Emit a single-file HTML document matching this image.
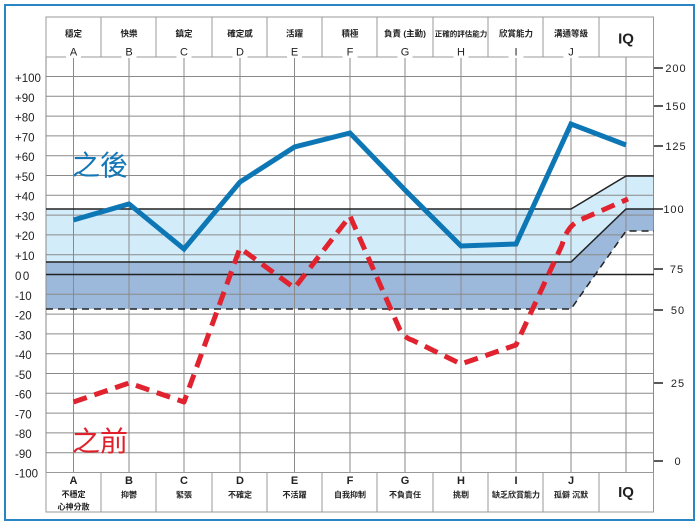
<!DOCTYPE html>
<html><head><meta charset="utf-8"><style>
html,body{margin:0;padding:0;background:#fff;}
svg{display:block;}
text{font-family:"Liberation Sans","Noto Sans CJK TC",sans-serif;}
.cj{font-family:"Liberation Sans","Noto Sans CJK TC",sans-serif;font-weight:700;fill:#222;}
.ax{font-size:11.5px;fill:#222;}
.rx{font-size:11px;fill:#222;letter-spacing:1px;}
</style></head><body>
<svg width="700" height="529" viewBox="0 0 700 529" xmlns="http://www.w3.org/2000/svg">
<rect x="0" y="0" width="700" height="529" fill="#fff"/>
<rect x="5" y="5" width="689" height="515" fill="none" stroke="#2a85c4" stroke-width="2"/>

<!-- bands -->
<polygon points="46,209 571,209 626,176 654,176 654,209 626,209 571,262 46,262" fill="#d3ecfa"/>
<polygon points="46,262 571,262 626,209 654,209 654,231 626,231 571,309 46,309" fill="#9cb8da"/>

<!-- horizontal grid -->
<g stroke="#8a8a8a" stroke-width="1">
<line x1="46" y1="76.5" x2="654" y2="76.5"/>
<line x1="46" y1="96.3" x2="654" y2="96.3"/>
<line x1="46" y1="116.1" x2="654" y2="116.1"/>
<line x1="46" y1="135.9" x2="654" y2="135.9"/>
<line x1="46" y1="155.7" x2="654" y2="155.7"/>
<line x1="46" y1="175.5" x2="654" y2="175.5"/>
<line x1="46" y1="195.3" x2="654" y2="195.3"/>
<line x1="46" y1="215.1" x2="654" y2="215.1"/>
<line x1="46" y1="234.9" x2="654" y2="234.9"/>
<line x1="46" y1="254.7" x2="654" y2="254.7"/>
<line x1="46" y1="294.3" x2="654" y2="294.3"/>
<line x1="46" y1="314.1" x2="654" y2="314.1"/>
<line x1="46" y1="333.9" x2="654" y2="333.9"/>
<line x1="46" y1="353.7" x2="654" y2="353.7"/>
<line x1="46" y1="373.5" x2="654" y2="373.5"/>
<line x1="46" y1="393.3" x2="654" y2="393.3"/>
<line x1="46" y1="413.1" x2="654" y2="413.1"/>
<line x1="46" y1="432.9" x2="654" y2="432.9"/>
<line x1="46" y1="452.7" x2="654" y2="452.7"/>
<line x1="46" y1="472.5" x2="654" y2="472.5"/>
</g>
<!-- vertical grid -->
<g stroke="#8a8a8a" stroke-width="1">
<line x1="46" y1="57" x2="46" y2="512"/>
<line x1="653.5" y1="57" x2="653.5" y2="512"/>
<line x1="73.5" y1="57" x2="73.5" y2="472"/>
<line x1="129" y1="57" x2="129" y2="472"/>
<line x1="184" y1="57" x2="184" y2="472"/>
<line x1="240" y1="57" x2="240" y2="472"/>
<line x1="294.5" y1="57" x2="294.5" y2="472"/>
<line x1="350" y1="57" x2="350" y2="472"/>
<line x1="405" y1="57" x2="405" y2="472"/>
<line x1="461" y1="57" x2="461" y2="472"/>
<line x1="516" y1="57" x2="516" y2="472"/>
<line x1="571" y1="57" x2="571" y2="472"/>
<line x1="626" y1="57" x2="626" y2="472"/>
</g>

<!-- band lines -->
<g fill="none" stroke="#222" stroke-width="1.5">
<polyline points="46,209 571,209 626,176 654,176"/>
<polyline points="46,262 571,262 626,209 654,209"/>
<line x1="46" y1="274.5" x2="654" y2="274.5"/>
<polyline points="46,309 571,309 626,231 654,231" stroke-dasharray="7,5"/>
</g>

<!-- header table -->
<g stroke="#999" stroke-width="1" fill="none">
<rect x="46" y="17" width="607.5" height="40"/>
<line x1="101" y1="17" x2="101" y2="57"/>
<line x1="156" y1="17" x2="156" y2="57"/>
<line x1="212" y1="17" x2="212" y2="57"/>
<line x1="267" y1="17" x2="267" y2="57"/>
<line x1="322" y1="17" x2="322" y2="57"/>
<line x1="377" y1="17" x2="377" y2="57"/>
<line x1="433" y1="17" x2="433" y2="57"/>
<line x1="488" y1="17" x2="488" y2="57"/>
<line x1="543" y1="17" x2="543" y2="57"/>
<line x1="599" y1="17" x2="599" y2="57"/>
</g>
<!-- footer table -->
<g stroke="#999" stroke-width="1" fill="none">
<rect x="46" y="472.5" width="607.5" height="39.5"/>
<line x1="101" y1="472" x2="101" y2="512"/>
<line x1="156" y1="472" x2="156" y2="512"/>
<line x1="212" y1="472" x2="212" y2="512"/>
<line x1="267" y1="472" x2="267" y2="512"/>
<line x1="322" y1="472" x2="322" y2="512"/>
<line x1="377" y1="472" x2="377" y2="512"/>
<line x1="433" y1="472" x2="433" y2="512"/>
<line x1="488" y1="472" x2="488" y2="512"/>
<line x1="543" y1="472" x2="543" y2="512"/>
<line x1="599" y1="472" x2="599" y2="512"/>
</g>

<!-- header letter backgrounds -->
<g fill="#fff">
<rect x="66" y="45" width="15" height="13"/>
<rect x="121.5" y="45" width="15" height="13"/>
<rect x="176.5" y="45" width="15" height="13"/>
<rect x="232.5" y="45" width="15" height="13"/>
<rect x="287" y="45" width="15" height="13"/>
<rect x="342.5" y="45" width="15" height="13"/>
<rect x="397.5" y="45" width="15" height="13"/>
<rect x="453.5" y="45" width="15" height="13"/>
<rect x="508.5" y="45" width="15" height="13"/>
<rect x="563.5" y="45" width="15" height="13"/>
</g>

<!-- header text -->
<g class="cj" font-size="8.5" text-anchor="middle">
<text x="73.5" y="36.5">穩定</text>
<text x="129" y="36.5">快樂</text>
<text x="184" y="36.5">鎮定</text>
<text x="240" y="36.5">確定感</text>
<text x="294.5" y="36.5">活躍</text>
<text x="350" y="36.5">積極</text>
<text x="405" y="36.5">負責 (主動)</text>
<text x="461" y="36.5" font-size="7.5">正確的評估能力</text>
<text x="516" y="36.5">欣賞能力</text>
<text x="571" y="36.5">溝通等級</text>
</g>
<g font-size="11" fill="#222" text-anchor="middle">
<text x="73.5" y="55.5">A</text>
<text x="129" y="55.5">B</text>
<text x="184" y="55.5">C</text>
<text x="240" y="55.5">D</text>
<text x="294.5" y="55.5">E</text>
<text x="350" y="55.5">F</text>
<text x="405" y="55.5">G</text>
<text x="461" y="55.5">H</text>
<text x="516" y="55.5">I</text>
<text x="571" y="55.5">J</text>
</g>
<text x="626" y="43.5" font-size="15" font-weight="700" fill="#222" text-anchor="middle">IQ</text>

<!-- footer text -->
<g font-size="11" font-weight="700" fill="#222" text-anchor="middle">
<text x="73.5" y="484">A</text>
<text x="129" y="484">B</text>
<text x="184" y="484">C</text>
<text x="240" y="484">D</text>
<text x="294.5" y="484">E</text>
<text x="350" y="484">F</text>
<text x="405" y="484">G</text>
<text x="461" y="484">H</text>
<text x="516" y="484">I</text>
<text x="571" y="484">J</text>
</g>
<g class="cj" font-size="8" text-anchor="middle">
<text x="73.5" y="497">不穩定</text>
<text x="73.5" y="509.5">心神分散</text>
<text x="129" y="497.5">抑鬱</text>
<text x="184" y="497.5">緊張</text>
<text x="240" y="497.5">不確定</text>
<text x="294.5" y="497.5">不活躍</text>
<text x="350" y="497.5">自我抑制</text>
<text x="405" y="497.5">不負責任</text>
<text x="461" y="497.5">挑剔</text>
<text x="516" y="497.5">缺乏欣賞能力</text>
<text x="571" y="497.5">孤僻 沉默</text>
</g>
<text x="626" y="497" font-size="15" font-weight="700" fill="#222" text-anchor="middle">IQ</text>

<!-- left axis labels -->
<g class="ax">
<text x="15" y="82">+100</text>
<text x="15" y="102">+90</text>
<text x="15" y="121.5">+80</text>
<text x="15" y="141.5">+70</text>
<text x="15" y="161">+60</text>
<text x="15" y="181">+50</text>
<text x="15" y="200.5">+40</text>
<text x="15" y="220.5">+30</text>
<text x="15" y="240">+20</text>
<text x="15" y="260">+10</text>
<text x="15" y="280" letter-spacing="1.5">00</text>
<text x="15" y="300">-10</text>
<text x="15" y="319.5">-20</text>
<text x="15" y="339.5">-30</text>
<text x="15" y="359">-40</text>
<text x="15" y="379">-50</text>
<text x="15" y="398.5">-60</text>
<text x="15" y="418.5">-70</text>
<text x="15" y="438">-80</text>
<text x="15" y="458">-90</text>
<text x="15" y="477.5">-100</text>
</g>

<!-- right axis -->
<g stroke="#222" stroke-width="1.5">
<line x1="654" y1="68" x2="663" y2="68"/>
<line x1="654" y1="106" x2="663" y2="106"/>
<line x1="654" y1="146" x2="663" y2="146"/>
<line x1="654" y1="209" x2="663" y2="209"/>
<line x1="654" y1="269" x2="663" y2="269"/>
<line x1="654" y1="310" x2="663" y2="310"/>
<line x1="654" y1="383" x2="663" y2="383"/>
<line x1="654" y1="461" x2="663" y2="461"/>
</g>
<g class="rx" text-anchor="middle">
<text x="676" y="72">200</text>
<text x="676" y="110">150</text>
<text x="676" y="150">125</text>
<text x="674" y="213">100</text>
<text x="677" y="273">75</text>
<text x="678" y="314">50</text>
<text x="678" y="387">25</text>
<text x="678" y="465">0</text>
</g>

<!-- series: after (blue) -->
<polyline points="73.5,220 129,204 184,249 240,182 294.5,147 350,133 405,190 461,246 516,244 571,124 626,145"
 fill="none" stroke="#0d77b6" stroke-width="5" stroke-linejoin="miter"/>

<!-- series: before (red dashed) -->
<path d="M73.5,402 L129,383 L184,402 L240,248 L294.5,288 L350,216 L400,330 Q405,338 412,340 L461,364 L516,345 L562,245 Q567,226 580,220 L628,199"
 fill="none" stroke="#e0232e" stroke-width="5" stroke-dasharray="14,8" stroke-linejoin="round"/>

<!-- big labels -->
<text x="72" y="175" font-size="28" fill="#1477b8" font-family="Liberation Sans, Noto Sans CJK TC, sans-serif">之後</text>
<text x="72" y="451" font-size="28" fill="#e0202a" font-family="Liberation Sans, Noto Sans CJK TC, sans-serif">之前</text>
</svg>
</body></html>
